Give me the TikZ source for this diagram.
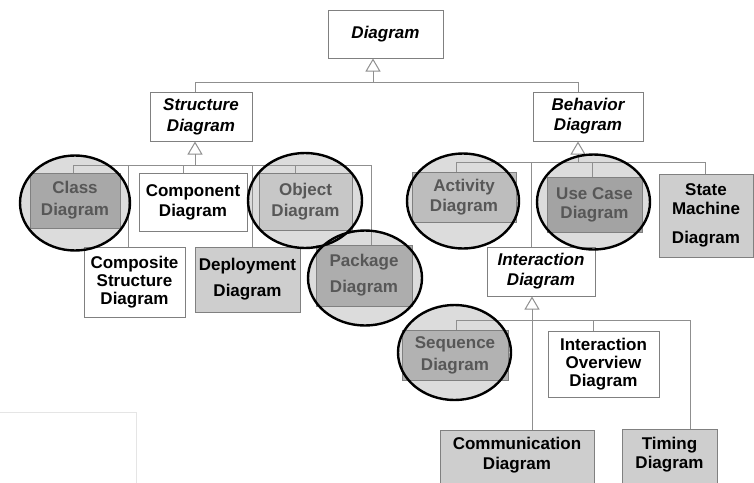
\documentclass[tikz,border=0pt]{standalone}
\usepackage{fontspec}
\setmainfont{Liberation Sans}
\usetikzlibrary{arrows.meta}

\definecolor{linegray}{HTML}{8F8F8F}
\definecolor{boxgray}{HTML}{808080}
\definecolor{ringfill}{HTML}{DCDCDC}
\definecolor{lightfill}{HTML}{CECECE}
\definecolor{fadetext}{HTML}{575757}

\begin{document}
\begin{tikzpicture}[x=1pt, y=-1pt, line join=miter,
	box/.style={draw=boxgray, line width=1pt, rectangle, inner sep=0pt, align=center,
		font=\bfseries\fontsize{17}{20}\selectfont},
	abstract/.style={box, fill=white, font=\bfseries\itshape\fontsize{17}{20}\selectfont},
	faded/.style={box, text=fadetext},
	link/.style={draw=linegray, line width=1pt},
	gen/.style={link, -{Triangle[open, length=13pt, width=15pt, line width=1pt]}},
	ring/.style={draw=black, line width=2.4pt}]
	
	\useasboundingbox (0,0) rectangle (754,482);
	\clip (0,0) rectangle (754,482);
	
	% faint frame bottom left
	\draw[black!10, line width=0.8pt] (-2,412) -| (136,490);
	
	% halo behind the circled diagrams
	\foreach \cx/\cy/\rx in {75/203/55, 305/200.5/57, 365/278/57, 463/201/56, 593.5/202/56.5, 454.5/352.5/56.5}
		\fill[ringfill] (\cx,\cy) ellipse [x radius=\rx, y radius=47.5];
	
	% Top
	\node[abstract, minimum width=115pt, minimum height=48pt] (diagram) at (385.5,34) {Diagram};
	\node[abstract, minimum width=102pt, minimum height=49pt] (struct) at (201,116.5) {Structure\\[1pt]Diagram};
	\node[abstract, minimum width=110pt, minimum height=49pt] (behav) at (588,116.5) {Behavior\\Diagram};
	
	% Structure diagrams
	\node[faded, fill=black!34, minimum width=90pt, minimum height=55pt] (class) at (75,200.5) {Class\\[2pt]Diagram};
	\node[box, fill=white, minimum width=108pt, minimum height=58pt] (component) at (193,202) {Component\\Diagram};
	\node[faded, fill=black!22, minimum width=93pt, minimum height=57pt] (object) at (305.5,201.5) {Object\\[1pt]Diagram};
	\node[box, fill=white, minimum width=101pt, minimum height=70pt] (composite) at (134.5,282) {Composite\\[-2pt]Structure\\[-2pt]Diagram};
	\node[box, fill=lightfill, minimum width=105pt, minimum height=65pt] (deploy) at (247.5,279.5) {Deployment\\[6pt]Diagram};
	\node[faded, fill=black!32, minimum width=96pt, minimum height=61pt] (package) at (364,275.5) {Package\\[6pt]Diagram};
	
	% Behavior diagrams
	\node[faded, fill=black!26, minimum width=104pt, minimum height=50pt] (activity) at (464,197) {Activity\\Diagram};
	\node[faded, fill=black!36, minimum width=95pt, minimum height=55pt] (usecase) at (594.5,204.5) {Use Case\\[-1pt]Diagram};
	\node[box, fill=lightfill, minimum width=94pt, minimum height=83pt] (state) at (706,215.5) {State\\[-1pt]Machine\\[9pt]Diagram};
	\node[abstract, minimum width=108pt, minimum height=49pt] (inter) at (541,271.5) {Interaction\\Diagram};
	
	% Interaction diagrams
	\node[faded, fill=black!30, minimum width=106pt, minimum height=50pt] (sequence) at (455,355) {Sequence\\[2pt]Diagram};
	\node[box, fill=white, minimum width=111pt, minimum height=66pt] (overview) at (603.5,364) {Interaction\\[-2pt]Overview\\[-2pt]Diagram};
	\node[box, fill=lightfill, minimum width=154pt, anchor=north, inner ysep=7pt, text depth=60pt] (commu) at (517,430) {Communication\\Diagram};
	\node[box, fill=lightfill, minimum width=95pt, anchor=north, inner ysep=8pt, text depth=60pt] (timing) at (669.5,429) {Timing\\[-1pt]Diagram};
	
	% bus points under the parents
	\coordinate (topbus) at (373,82);
	\coordinate (sbus) at (195,165);
	\coordinate (bbus) at (578,162);
	\coordinate (ibus) at (532,320);
	
	\draw[link] (struct.north -| sbus) |- (topbus);
	\draw[link] (behav.north -| bbus) |- (topbus);
	\draw[gen] (topbus) -- (diagram.south -| topbus);
	
	\foreach \n/\x in {class/73, composite/128, component/183, deploy/252, object/295, package/371}
		\draw[link] (\n.north -| \x,0) |- (sbus);
	\draw[gen] (sbus) -- (struct.south -| sbus);
	
	\foreach \n/\x in {activity/456, inter/531, usecase/592, state/705}
		\draw[link] (\n.north -| \x,0) |- (bbus);
	\draw[gen] (bbus) -- (behav.south -| bbus);
	
	\foreach \n/\x in {sequence/456, overview/593, timing/690}
		\draw[link] (\n.north -| \x,0) |- (ibus);
	\draw[gen] (commu.north -| ibus) -- (inter.south -| ibus);
	
	% rings on top
	\foreach \cx/\cy/\rx in {75/203/55, 305/200.5/57, 365/278/57, 463/201/56, 593.5/202/56.5, 454.5/352.5/56.5}
		\draw[ring] (\cx,\cy) ellipse [x radius=\rx, y radius=47.5];
	
\end{tikzpicture}
\end{document}
